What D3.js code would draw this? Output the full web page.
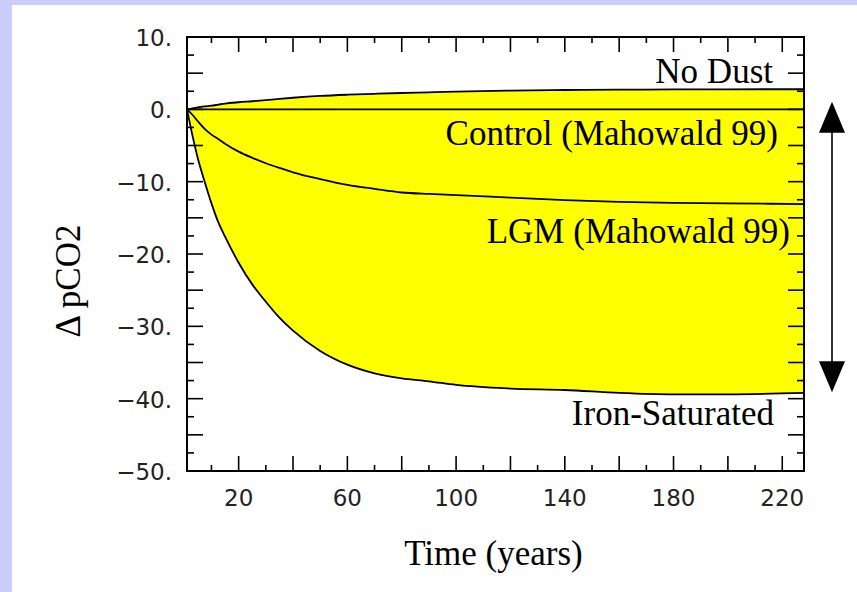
<!DOCTYPE html>
<html>
<head>
<meta charset="utf-8">
<script src="https://cdn.jsdelivr.net/npm/d3@7"></script>
<style>
  html, body { margin: 0; padding: 0; background: #ccccff; }
  svg { display: block; }
</style>
</head>
<body>
<svg id="chart" width="857" height="592"></svg>
<script>
// Time axis (years) shared by every run
const years = [1, 3, 5, 7.5, 10, 12.5, 15, 20, 25, 30, 35, 40, 50, 60, 70, 80, 90, 100, 120, 140, 160, 180, 200, 228];

// Change in pCO2 for each dust scenario
const noDust = [0, 0.12, 0.27, 0.4, 0.5, 0.65, 0.8, 0.98, 1.12, 1.28, 1.45, 1.6, 1.85, 2.02, 2.15, 2.26, 2.35, 2.45, 2.58, 2.67, 2.72, 2.75, 2.77, 2.78];
const control = [0, 0, 0, 0, 0, 0, 0, 0, 0, 0, 0, 0, 0, 0, 0, 0, 0, 0, 0, 0, 0, 0, 0, 0];
const lgm = [0, -0.75, -1.65, -2.7, -3.5, -4.1, -4.75, -5.85, -6.7, -7.45, -8.1, -8.7, -9.65, -10.45, -11.0, -11.5, -11.7, -11.85, -12.2, -12.55, -12.8, -12.92, -13.0, -13.1];
const ironSaturated = [0, -3.6, -6.8, -10.0, -13.0, -15.6, -17.6, -21.2, -24.2, -26.6, -28.8, -30.6, -33.4, -35.3, -36.5, -37.2, -37.6, -38.1, -38.6, -38.8, -39.2, -39.4, -39.4, -39.2];

// Tick values and labels
const yLabelTicks = [10, 0, -10, -20, -30, -40, -50];
const xLabelTicks = [20, 60, 100, 140, 180, 220];
const yTickValues = d3.range(-50, 10.01, 2.5);
const xTickValues = d3.range(10, 220.01, 10);

// Curve labels and the range arrow
const seriesLabels = [
  { text: "No Dust", x: 773, y: 83 },
  { text: "Control (Mahowald 99)", x: 778, y: 145 },
  { text: "LGM (Mahowald 99)", x: 790, y: 243 },
  { text: "Iron-Saturated", x: 774, y: 425 }
];
const arrowRange = [1.05, -39.1];

const svg = d3.select("#chart");

// white panel on the lavender page
svg.append("rect").attr("x", 12).attr("y", 5).attr("width", 845).attr("height", 587).attr("fill", "#ffffff");

const plotLeft = 187, plotRight = 804, plotTop = 37, plotBottom = 471;
const x = d3.scaleLinear().domain([1, 228]).range([plotLeft, plotRight]);
const y = d3.scaleLinear().domain([-50, 10]).range([plotBottom, plotTop]);

// yellow band between the no-dust and iron-saturated responses
const band = d3.area()
  .curve(d3.curveMonotoneX)
  .x((d, i) => x(years[i]))
  .y0((d, i) => y(ironSaturated[i]))
  .y1((d, i) => y(noDust[i]));
svg.append("path").datum(years).attr("d", band).attr("fill", "#ffff00");

const line = d3.line().curve(d3.curveMonotoneX).x(d => x(d[0])).y(d => y(d[1]));
[noDust, control, lgm, ironSaturated].forEach(series => {
  svg.append("path")
    .datum(years.map((t, i) => [t, series[i]]))
    .attr("d", line)
    .attr("fill", "none")
    .attr("stroke", "#000")
    .attr("stroke-width", 1.8);
});

// ticks on all four sides, pointing inward
const ticks = svg.append("g").attr("stroke", "#000").attr("stroke-width", 1.6);
yTickValues.forEach(v => {
  const len = (Math.abs(v % 5) < 1e-6) ? 16 : 7;
  ticks.append("line").attr("x1", plotLeft).attr("x2", plotLeft + len).attr("y1", y(v)).attr("y2", y(v));
  ticks.append("line").attr("x1", plotRight).attr("x2", plotRight - len).attr("y1", y(v)).attr("y2", y(v));
});
xTickValues.forEach(v => {
  const len = (v % 20 === 0) ? 15 : 6;
  ticks.append("line").attr("x1", x(v)).attr("x2", x(v)).attr("y1", plotBottom).attr("y2", plotBottom - len);
  ticks.append("line").attr("x1", x(v)).attr("x2", x(v)).attr("y1", plotTop).attr("y2", plotTop + len);
});

// frame
svg.append("rect")
  .attr("x", plotLeft).attr("y", plotTop)
  .attr("width", plotRight - plotLeft).attr("height", plotBottom - plotTop)
  .attr("fill", "none").attr("stroke", "#000").attr("stroke-width", 2);

// tick labels
const tickFont = "'DejaVu Sans', sans-serif";
svg.append("g").selectAll("text").data(yLabelTicks).join("text")
  .attr("x", 172).attr("y", d => y(d) + 9)
  .attr("text-anchor", "end")
  .attr("font-family", tickFont).attr("font-size", 23)
  .attr("fill", "#222")
  .text(d => (d < 0 ? "\u2212" + Math.abs(d) : d) + ".");
svg.append("g").selectAll("text").data(xLabelTicks).join("text")
  .attr("x", d => x(d)).attr("y", plotBottom + 35)
  .attr("text-anchor", "middle")
  .attr("font-family", tickFont).attr("font-size", 23)
  .attr("fill", "#222")
  .text(d => d);

// axis titles
const serif = "'Liberation Serif', 'Times New Roman', serif";
svg.append("text")
  .attr("x", (plotLeft + plotRight) / 2 - 2).attr("y", 565)
  .attr("text-anchor", "middle")
  .attr("font-family", serif).attr("font-size", 35)
  .text("Time (years)");
svg.append("text")
  .attr("transform", "translate(80,281) rotate(-90)")
  .attr("text-anchor", "middle")
  .attr("font-family", serif).attr("font-size", 35)
  .text("\u0394 pCO2");

// curve labels
svg.append("g").selectAll("text").data(seriesLabels).join("text")
  .attr("x", d => d.x).attr("y", d => d.y)
  .attr("text-anchor", "end")
  .attr("font-family", serif).attr("font-size", 35)
  .text(d => d.text);

// double-headed arrow spanning the range of responses
const ax = 832, headH = 31, headW = 13;
const yTop = y(arrowRange[0]), yBot = y(arrowRange[1]);
svg.append("line")
  .attr("x1", ax).attr("x2", ax).attr("y1", yTop + headH - 2).attr("y2", yBot - headH + 2)
  .attr("stroke", "#333").attr("stroke-width", 2);
svg.append("path")
  .attr("d", `M${ax},${yTop} L${ax - headW},${yTop + headH} L${ax + headW},${yTop + headH} Z`)
  .attr("fill", "#000");
svg.append("path")
  .attr("d", `M${ax},${yBot} L${ax - headW},${yBot - headH} L${ax + headW},${yBot - headH} Z`)
  .attr("fill", "#000");
</script>
</body>
</html>
